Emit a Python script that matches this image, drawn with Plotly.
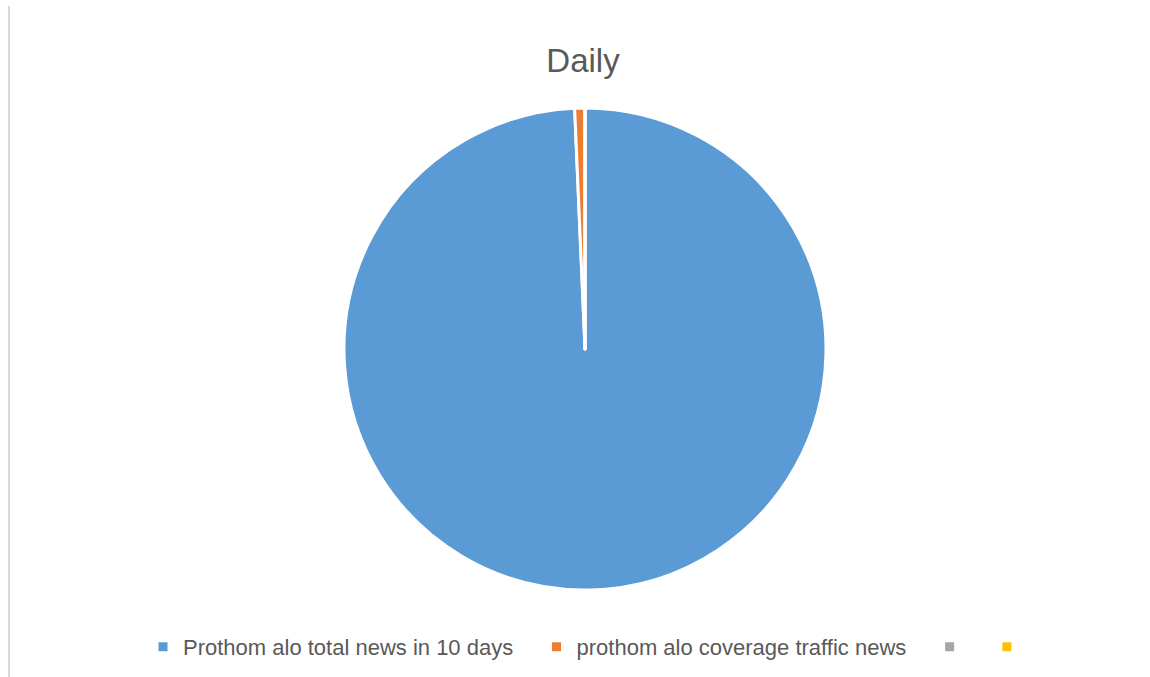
import plotly.graph_objects as go

# Category labels and values for the pie (trailing no-break spaces widen legend entries)
labels = [
    "Prothom alo total news in 10 days\u00a0\u00a0\u00a0",
    "prothom alo coverage traffic news\u00a0\u00a0\u00a0",
    "\u00a0\u00a0",
    "\u00a0\u00a0\u00a0",
]
values = [1450, 10, 0, 0]
colors = ["#5B9BD5", "#ED7D31", "#A5A5A5", "#FFC000"]

W, H = 1150, 677
cx, cy, r = 585, 349, 241  # pie centre and radius in pixels

fig = go.Figure(
    go.Pie(
        labels=labels,
        values=values,
        sort=False,
        direction="clockwise",
        rotation=0,
        textinfo="none",
        marker=dict(colors=colors, line=dict(color="#FFFFFF", width=3)),
        domain=dict(
            x=[(cx - r) / W, (cx + r) / W],
            y=[1 - (cy + r) / H, 1 - (cy - r) / H],
        ),
    )
)

fig.update_layout(
    width=W,
    height=H,
    margin=dict(l=0, r=0, t=0, b=0),
    paper_bgcolor="#FFFFFF",
    plot_bgcolor="#FFFFFF",
    font=dict(family="Liberation Sans, Arial, sans-serif", color="#595959"),
    title=dict(
        text="Daily",
        x=583 / W,
        xanchor="center",
        y=1 - 60 / H,
        yanchor="middle",
        font=dict(size=33, color="#595959"),
    ),
    showlegend=True,
    legend=dict(
        orientation="h",
        x=597 / W,
        xanchor="center",
        y=1 - 647 / H,
        yanchor="middle",
        font=dict(size=22, color="#595959"),
        bgcolor="rgba(0,0,0,0)",
        traceorder="normal",
    ),
    shapes=[
        dict(
            type="line",
            xref="paper",
            yref="paper",
            x0=9 / W,
            x1=9 / W,
            y0=0,
            y1=1 - 6 / H,
            line=dict(color="#D9D9D9", width=2),
        )
    ],
)

fig.write_html("out.html")
